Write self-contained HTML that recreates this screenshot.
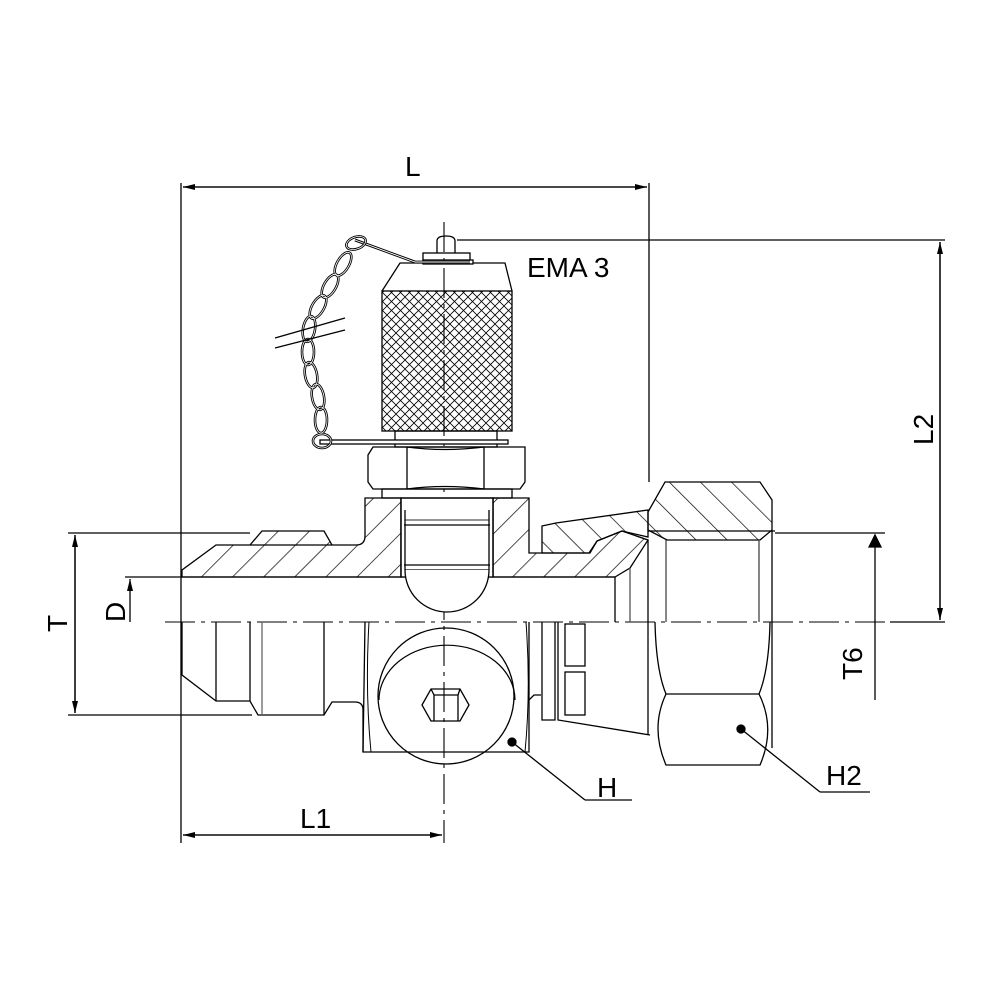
<!DOCTYPE html>
<html><head><meta charset="utf-8"><style>
html,body{margin:0;padding:0;background:#fff}
svg{display:block}
text{font-family:"Liberation Sans",sans-serif;fill:#000}
</style></head><body>
<svg width="1000" height="1000" viewBox="0 0 1000 1000" xmlns="http://www.w3.org/2000/svg">
<defs>
<pattern id="h1" width="22" height="22" patternUnits="userSpaceOnUse" patternTransform="rotate(45)">
<line x1="0" y1="0" x2="0" y2="22" stroke="#000" stroke-width="1.4"/></pattern>
<pattern id="h2" width="22" height="22" patternUnits="userSpaceOnUse" patternTransform="rotate(-45)">
<line x1="0" y1="0" x2="0" y2="22" stroke="#000" stroke-width="1.4"/></pattern>
<pattern id="knurl" width="9" height="9" patternUnits="userSpaceOnUse">
<path d="M0 0L9 9M9 0L0 9" stroke="#000" stroke-width="0.8"/></pattern>
<marker id="ar" markerWidth="12" markerHeight="8" refX="12" refY="4" orient="auto" markerUnits="userSpaceOnUse">
<path d="M0 1L12 4L0 7Z" fill="#000"/></marker>
</defs>
<g fill="none" stroke="#000" stroke-width="1.3">
<line x1="181" y1="183" x2="181" y2="843"/>
<line x1="649" y1="183" x2="649" y2="482"/>
<line x1="183" y1="187" x2="647" y2="187" marker-end="url(#ar)"/>
<line x1="647" y1="187" x2="183" y2="187" marker-end="url(#ar)"/>
<line x1="457" y1="240" x2="945" y2="240"/>
<line x1="890" y1="622" x2="945" y2="622"/>
<line x1="940" y1="242" x2="940" y2="620" marker-end="url(#ar)"/>
<line x1="940" y1="620" x2="940" y2="242" marker-end="url(#ar)"/>
<line x1="68" y1="533" x2="250" y2="533"/>
<line x1="68" y1="715" x2="252" y2="715"/>
<line x1="75" y1="535" x2="75" y2="713" marker-end="url(#ar)"/>
<line x1="75" y1="713" x2="75" y2="535" marker-end="url(#ar)"/>
<line x1="125" y1="577" x2="182" y2="577"/>
<line x1="130" y1="622" x2="130" y2="579" marker-end="url(#ar)"/>
<line x1="775" y1="533" x2="885" y2="533"/>
<line x1="875" y1="535" x2="875" y2="700"/>
<path d="M869 547L875 535L881 547Z" fill="#000"/>
<line x1="183" y1="835" x2="442" y2="835" marker-end="url(#ar)"/>
<line x1="442" y1="835" x2="183" y2="835" marker-end="url(#ar)"/>
<line x1="165" y1="622" x2="905" y2="622" stroke-dasharray="30,6,4,6" stroke-width="1.1"/>
<line x1="444" y1="222" x2="444" y2="843" stroke-dasharray="30,6,4,6" stroke-width="1.1"/>
<line x1="512" y1="742" x2="585" y2="800"/><line x1="585" y1="800" x2="632" y2="800"/>
<circle cx="512" cy="742" r="4" fill="#000"/>
<line x1="741" y1="729" x2="820" y2="792"/><line x1="820" y1="792" x2="870" y2="792"/>
<circle cx="741" cy="729" r="4" fill="#000"/>

<path d="M182 577L182 570L216 545L250 545L262 531L324 531L332 545L356 545Q365 545 365 536L365 498L401 498L401 577Z" fill="url(#h1)"/>
<path d="M493 498L529 498L529 553L590 553L597 541L622 531L648 540L630 568L615 577L493 577Z" fill="url(#h1)"/>
<line x1="250" y1="545" x2="332" y2="545"/>
<path d="M542 526L556 523L648 510L648 537L622 531L597 541L589 553L542 553Z" fill="url(#h2)"/>
<line x1="182" y1="577" x2="615" y2="577"/>
<line x1="615" y1="577" x2="615" y2="622"/>
<line x1="630" y1="568" x2="630" y2="622" stroke="#555"/>
<line x1="648" y1="540" x2="648" y2="622"/>
<rect x="401" y="498" width="92" height="79" fill="#fff"/>
<line x1="401" y1="498" x2="401" y2="577"/><line x1="493" y1="498" x2="493" y2="577"/>
<line x1="405" y1="520" x2="489" y2="520" stroke="#555"/>
<line x1="404" y1="525" x2="490" y2="525"/>
<line x1="404" y1="565" x2="490" y2="565"/>
<line x1="405" y1="570" x2="489" y2="570"/>
<path d="M405 570L405 510M489 570L489 510"/>
<path d="M405 570A42 42 0 0 0 489 570" fill="#fff"/>

<path d="M182 622L182 675L216 701L250 701L258 715L324 715L332 702L355 702Q363 702 363 710L363 752"/>
<line x1="216" y1="622" x2="216" y2="701"/>
<line x1="250" y1="622" x2="250" y2="701"/>
<line x1="262" y1="622" x2="262" y2="715" stroke="#666"/>
<line x1="324" y1="622" x2="324" y2="715"/>
<path d="M365 622L363 752L529 752L529 622"/>
<path d="M369 622Q365 690 371 752M526 622Q531 690 525 752" stroke-width="1"/>
<circle cx="446" cy="696" r="68"/>
<path d="M379 700A67 54 0 0 1 515 700" stroke-width="1.2"/>
<path d="M422 705L431 689L460 689L469 705L460 721L431 721Z"/>
<path d="M434 695L458 695M434 695L434 721M458 695L458 721M431 689L434 695M460 689L458 695"/>
<path d="M542 622L542 720L555 720L555 622M558 622L558 720L650 735"/>
<rect x="565" y="624" width="20" height="42"/>
<rect x="565" y="672" width="20" height="43"/>
<path d="M529 700L534 695L541 695"/>
<line x1="648" y1="622" x2="648" y2="735"/>
<path d="M648 512L665 482L760 482L772 500L772 530L760 540L667 540L648 530Z" fill="url(#h2)"/>
<line x1="648" y1="531" x2="775" y2="531"/>
<line x1="666" y1="540" x2="666" y2="622" stroke="#444"/>
<line x1="759" y1="540" x2="759" y2="622" stroke="#444"/>
<line x1="772" y1="530" x2="772" y2="748"/>
<path d="M655 622Q656 670 666 694L759 694Q769 670 770 622"/>
<path d="M666 694Q650 728 666 765L760 765Q776 728 759 694"/>

<path d="M368 455L373 447L525 447L525 482L520 489L373 489L368 482Z" fill="#fff"/>
<path d="M407 447Q444 452 484 447M407 489Q444 484 484 489"/>
<line x1="407" y1="447" x2="407" y2="489"/><line x1="484" y1="447" x2="484" y2="489"/>
<rect x="382" y="489" width="130" height="9"/>
<rect x="395" y="431" width="102" height="16"/>
<rect x="320" y="440" width="188" height="4" fill="#fff"/>
<rect x="382" y="291" width="130" height="140" fill="url(#knurl)"/>
<path d="M382 291L400 263L505 263L512 291"/>
<rect x="423" y="253" width="47" height="10"/>
<rect x="423" y="260" width="50" height="4" fill="#fff"/>
<path d="M437 253L437 241Q437 236 446 236Q455 236 455 241L455 253"/>
<path d="M355 240L415 262L470 262" stroke-width="2.8"/>
<path d="M355 240L415 262L470 262" stroke="#fff" stroke-width="0.9"/>
<g stroke-width="2.6">
<ellipse cx="356" cy="243" rx="10" ry="6" transform="rotate(-20 356 243)"/>
<ellipse cx="343" cy="264" rx="6" ry="13" transform="rotate(30 343 264)"/>
<ellipse cx="330" cy="286" rx="6" ry="13" transform="rotate(30 330 286)"/>
<ellipse cx="318" cy="307" rx="6" ry="13" transform="rotate(30 318 307)"/>
<ellipse cx="309" cy="329" rx="6" ry="13" transform="rotate(10 309 329)"/>
<ellipse cx="308" cy="352" rx="6" ry="13"/>
<ellipse cx="311" cy="375" rx="6" ry="13" transform="rotate(-10 311 375)"/>
<ellipse cx="318" cy="397" rx="6" ry="13" transform="rotate(-10 318 397)"/>
<ellipse cx="321" cy="420" rx="6" ry="13"/>
<ellipse cx="322" cy="441" rx="9" ry="7"/>
</g>
<g stroke="#fff" stroke-width="0.8">
<ellipse cx="356" cy="243" rx="10" ry="6" transform="rotate(-20 356 243)"/>
<ellipse cx="343" cy="264" rx="6" ry="13" transform="rotate(30 343 264)"/>
<ellipse cx="330" cy="286" rx="6" ry="13" transform="rotate(30 330 286)"/>
<ellipse cx="318" cy="307" rx="6" ry="13" transform="rotate(30 318 307)"/>
<ellipse cx="309" cy="329" rx="6" ry="13" transform="rotate(10 309 329)"/>
<ellipse cx="308" cy="352" rx="6" ry="13"/>
<ellipse cx="311" cy="375" rx="6" ry="13" transform="rotate(-10 311 375)"/>
<ellipse cx="318" cy="397" rx="6" ry="13" transform="rotate(-10 318 397)"/>
<ellipse cx="321" cy="420" rx="6" ry="13"/>
<ellipse cx="322" cy="441" rx="9" ry="7"/>
</g>
<line x1="275" y1="338" x2="345" y2="318"/>
<line x1="275" y1="348" x2="345" y2="330"/>
</g>
<text x="405" y="176" font-size="28">L</text>
<text x="527" y="277" font-size="28">EMA 3</text>
<text x="300" y="828" font-size="28">L1</text>
<text x="597" y="797" font-size="28">H</text>
<text x="826" y="785" font-size="28">H2</text>
<text font-size="28" transform="translate(933 445) rotate(-90)">L2</text>
<text font-size="28" transform="translate(67 632) rotate(-90)">T</text>
<text font-size="28" transform="translate(125 622) rotate(-90)">D</text>
<text font-size="28" transform="translate(862 680) rotate(-90)">T6</text>
</svg>
</body></html>
